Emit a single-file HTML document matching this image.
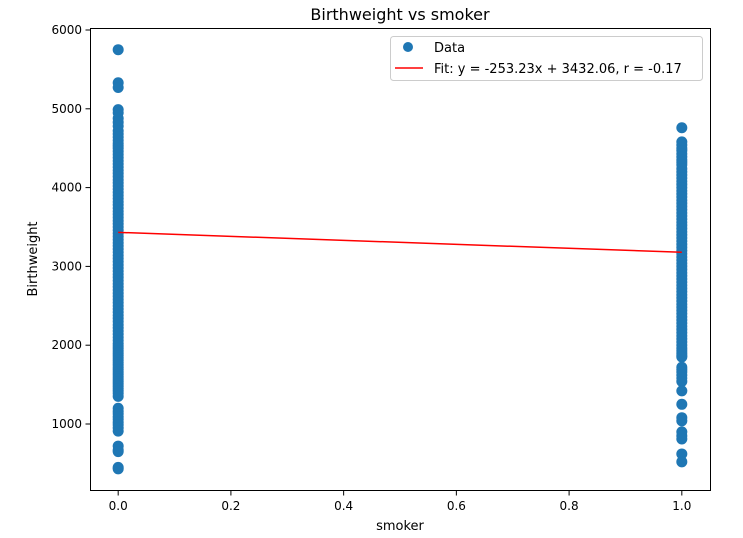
<!DOCTYPE html>
<html><head><meta charset="utf-8"><style>body{margin:0;background:#fff}svg{display:block;font-family:"DejaVu Sans","Liberation Sans",sans-serif}</style></head>
<body>
<svg id="chart" width="743" height="538">
<text x="400" y="20" text-anchor="middle" font-size="16">Birthweight vs smoker</text>
<g id="grid"></g>
<rect x="90.5" y="28.5" width="620" height="462" fill="none" stroke="#000" stroke-width="1"/>
<g id="points"></g>
<g id="fit"></g>
<g id="axes"></g>
<text x="400" y="530" text-anchor="middle" font-size="13">smoker</text>
<text transform="translate(37,259) rotate(-90)" text-anchor="middle" font-size="13">Birthweight</text>
<g>
<rect x="390.5" y="36.5" width="312" height="44" rx="3" fill="#fff" fill-opacity="0.8" stroke="#ccc"/>
<circle cx="408" cy="47" r="5" fill="#1f77b4"/>
<text x="434" y="52" font-size="13">Data</text>
<line x1="395" y1="68" x2="423" y2="68" stroke="red" stroke-width="1.5"/>
<text x="434" y="73" font-size="13">Fit: y = -253.23x + 3432.06, r = -0.17</text>
</g>
</svg>
<script>
const xTicks=[0.0,0.2,0.4,0.6,0.8,1.0];
const xTickLabels=["0.0","0.2","0.4","0.6","0.8","1.0"];
const yTicks=[1000,2000,3000,4000,5000,6000];
const yTickLabels=["1000","2000","3000","4000","5000","6000"];
const nonSmokerWeights=[5750,5330,5270,4990,4950,4880,4830,4780,4720,4680,4640,4600,4560,4530,4500,4460,4420,4380,4340,4300,4260,4220,4180,4140,4100,4060,4020,3980,3940,3900,3860,3820,3780,3740,3700,3660,3620,3580,3540,3500,3460,3420,3380,3340,3300,3260,3220,3180,3140,3100,3060,3020,2980,2940,2900,2860,2820,2780,2740,2700,2660,2620,2580,2540,2500,2460,2420,2380,2340,2300,2260,2220,2180,2140,2100,2060,2020,1990,1960,1930,1900,1870,1840,1810,1780,1750,1720,1690,1660,1630,1600,1570,1540,1510,1480,1450,1420,1390,1350,1200,1160,1130,1090,1060,1020,990,950,910,720,670,650,450,430];
const smokerWeights=[4760,4580,4540,4500,4470,4430,4390,4350,4320,4290,4240,4200,4160,4120,4080,4040,4000,3960,3920,3880,3840,3800,3760,3720,3680,3640,3600,3560,3520,3480,3440,3400,3360,3320,3280,3240,3200,3160,3120,3080,3040,3000,2960,2920,2880,2840,2800,2760,2720,2680,2640,2600,2560,2520,2480,2440,2400,2360,2320,2280,2240,2200,2160,2120,2080,2040,2000,1960,1930,1900,1870,1850,1720,1690,1660,1620,1580,1540,1420,1250,1080,1040,900,850,810,620,520];
const fitSlope=-253.23, fitIntercept=3432.06;
const NS='http://www.w3.org/2000/svg';
const X=v=>90+620*(v+0.05)/1.1;
const Y=v=>502.8-v*0.0788;
function mk(tag,attrs,parent){const e=document.createElementNS(NS,tag);for(const k in attrs)e.setAttribute(k,attrs[k]);document.getElementById(parent).appendChild(e);return e;}
xTicks.forEach((t,i)=>{
 const l=mk('line',{x1:X(t),x2:X(t),y1:490.5,y2:495.5,stroke:'#000'},'axes');
 
 
 const tx=mk('text',{x:X(t),y:510,'text-anchor':'middle','font-size':12},'axes');tx.textContent=xTickLabels[i];
 
 
});
yTicks.forEach((t,i)=>{
 const l=mk('line',{x1:85.5,x2:90.5,y1:Y(t),y2:Y(t),stroke:'#000'},'axes');
 
 
 const tx=mk('text',{x:82,y:Y(t)+4,'text-anchor':'end','font-size':12},'axes');tx.textContent=yTickLabels[i];
 
 
});
[[0,nonSmokerWeights],[1,smokerWeights]].forEach(([x,arr])=>arr.forEach(v=>{
 const c=mk('circle',{cx:X(x),cy:Y(v),r:5.5,fill:'#1f77b4'},'points');
 
 
}));
const f=mk('line',{x1:X(0),y1:Y(fitIntercept),x2:X(1),y2:Y(fitIntercept+fitSlope),stroke:'red','stroke-width':1.5},'fit');


</script>
</body></html>
